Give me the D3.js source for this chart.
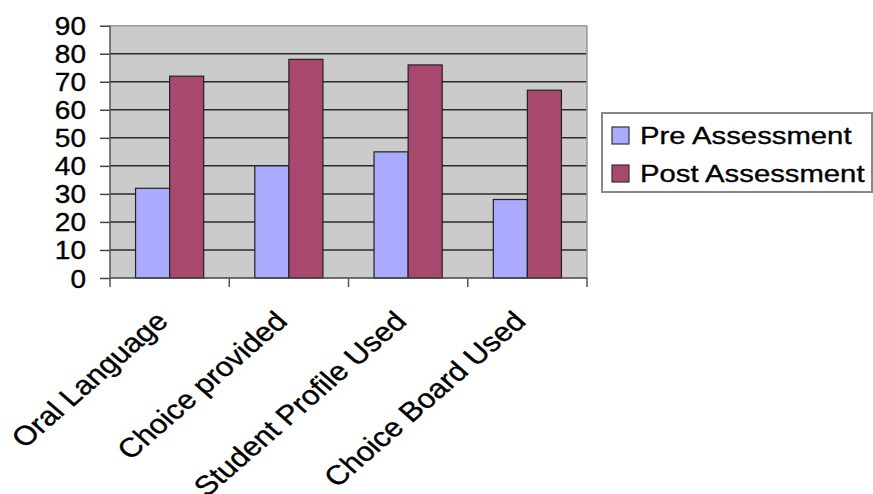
<!DOCTYPE html>
<html><head><meta charset="utf-8">
<script src="https://cdn.jsdelivr.net/npm/d3@7"></script>
<style>body{margin:0;background:#fff}svg{display:block}text{font-family:"Liberation Sans",Arial,sans-serif;fill:#000;stroke:#000;stroke-width:0.35px}</style>
</head><body>
<script>
const categories = ["Oral Language","Choice provided","Student Profile Used","Choice Board Used"];
const seriesNames = ["Pre Assessment","Post Assessment"];
const preValues = [32,40,45,28];
const postValues = [72,78,76,67];
const yTicks = [0,10,20,30,40,50,60,70,80,90];
const colors = ["#aaaaff","#a8486f"];

const W=873,H=494;
const pLeft=110,pRight=587,pTop=25.7,pBottom=278;
const svg=d3.select("body").append("svg").attr("width",W).attr("height",H);

const x=d3.scaleBand().domain(categories).range([pLeft,pRight]).paddingInner(0.4286).paddingOuter(0.2143);
const xs=d3.scaleBand().domain(seriesNames).range([0,x.bandwidth()]);
const y=d3.scaleLinear().domain([0,90]).range([pBottom,pTop]);

svg.append("rect").attr("x",pLeft).attr("y",pTop).attr("width",pRight-pLeft).attr("height",pBottom-pTop).attr("fill","#cbcbcb");

// gridlines
svg.append("g").selectAll("line").data(yTicks.slice(1)).join("line")
  .attr("x1",pLeft).attr("x2",pRight).attr("y1",d=>y(d)).attr("y2",d=>y(d))
  .attr("stroke",d=>d===90?"#9a9a9a":"#2a2a2a").attr("stroke-width",1.5);
svg.append("line").attr("x1",pRight).attr("x2",pRight).attr("y1",pTop).attr("y2",pBottom).attr("stroke","#9a9a9a").attr("stroke-width",1.5);

const data=categories.map((c,i)=>({c,vals:[preValues[i],postValues[i]]}));
const g=svg.append("g").selectAll("g").data(data).join("g").attr("transform",d=>`translate(${x(d.c)},0)`);
g.selectAll("rect").data(d=>d.vals.map((v,j)=>({v,s:seriesNames[j],j}))).join("rect")
  .attr("x",d=>xs(d.s)).attr("width",xs.bandwidth()).attr("y",d=>y(d.v)).attr("height",d=>pBottom-y(d.v))
  .attr("fill",d=>colors[d.j]).attr("stroke","#222").attr("stroke-width",1.2);

// y axis
const yAxis=d3.axisLeft(y).tickValues(yTicks).tickSize(10).tickPadding(14);
const ya=svg.append("g").attr("transform",`translate(${pLeft},0)`).call(yAxis);
ya.select(".domain").remove();
ya.selectAll(".tick line").attr("stroke","#444").attr("stroke-width",1.5);
ya.selectAll(".tick text").attr("font-size",25).attr("dy","0.36em").attr("transform","scale(1.12,1)")
  .attr("x",-24/1.12);
svg.append("line").attr("x1",pLeft).attr("x2",pLeft).attr("y1",pTop).attr("y2",pBottom+9).attr("stroke","#555").attr("stroke-width",1.5);

// x axis
svg.append("line").attr("x1",pLeft).attr("x2",pRight).attr("y1",pBottom).attr("y2",pBottom).attr("stroke","#444").attr("stroke-width",1.5);
const bounds=categories.map((c,i)=>i+1);
svg.append("g").selectAll("line").data(bounds).join("line")
  .attr("x1",d=>pLeft+d*x.step()).attr("x2",d=>pLeft+d*x.step()).attr("y1",pBottom).attr("y2",pBottom+9)
  .attr("stroke","#555").attr("stroke-width",1.5);
svg.append("g").selectAll("text").data(categories).join("text")
  .attr("transform",d=>`translate(${x(d)+x.bandwidth()/2},323) scale(1.15,1) rotate(-45)`)
  .attr("text-anchor","end").attr("font-size",27).text(d=>d);

// legend
const lg=svg.append("g");
lg.append("rect").attr("x",602).attr("y",113).attr("width",270).attr("height",79).attr("fill","#fff").attr("stroke","#888").attr("stroke-width",2);
const li=lg.selectAll("g").data(seriesNames).join("g").attr("transform",(d,i)=>`translate(612,${127+i*38})`);
li.append("rect").attr("width",17).attr("height",17).attr("fill",(d,i)=>colors[i]).attr("stroke","#333").attr("stroke-width",1.2);
li.append("text").attr("transform","translate(28,17) scale(1.22,1)").attr("font-size",24).text(d=>d);
</script>
</body></html>
